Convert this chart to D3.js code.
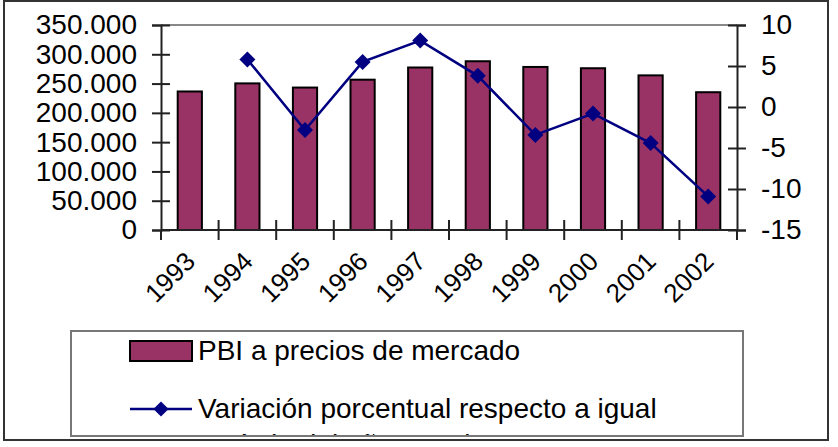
<!DOCTYPE html>
<html>
<head>
<meta charset="utf-8">
<script src="https://cdn.jsdelivr.net/npm/d3@7"></script>
<style>
  body { margin: 0; background: #fff; }
  svg text { font-family: "Liberation Sans", Arial, sans-serif; fill: #000; }
</style>
</head>
<body>
<svg id="chart" width="838" height="447"></svg>
<script>
const years = ["1993", "1994", "1995", "1996", "1997", "1998", "1999", "2000", "2001", "2002"];
const pbi = [236505, 250308, 243186, 256626, 277441, 288123, 278369, 276173, 263997, 235236];
const variacion = [null, 5.8, -2.8, 5.5, 8.1, 3.8, -3.4, -0.8, -4.4, -10.9];
const leftTicks = [0, 50000, 100000, 150000, 200000, 250000, 300000, 350000];
const rightTicks = [-15, -10, -5, 0, 5, 10];
const legendLabels = ["PBI a precios de mercado", "Variación porcentual respecto a igual", "período del año anterior"];

const barColor = "#993366";
const lineColor = "#000080";

const svg = d3.select("#chart");
const margin = { left: 161, right: 101, top: 25, bottom: 217 };
const width = 838 - margin.left - margin.right;
const height = 447 - margin.top - margin.bottom;

// outer frame
svg.append("rect")
  .attr("x", 4).attr("y", 1)
  .attr("width", 824).attr("height", 439)
  .attr("fill", "#fff")
  .attr("stroke", "#333").attr("stroke-width", 2);

const g = svg.append("g").attr("transform", "translate(" + margin.left + "," + margin.top + ")");

const x = d3.scaleBand().domain(years).range([0, width]).paddingInner(0.58).paddingOuter(0.29);
const xCat = d3.scaleBand().domain(years).range([0, width]);
const yLeft = d3.scaleLinear().domain([0, 350000]).range([height, 0]);
const yRight = d3.scaleLinear().domain([-15, 10]).range([height, 0]);

const fmt = v => d3.format(",")(v).replace(/,/g, ".");

// top border of plot area
g.append("line")
  .attr("x1", 0).attr("x2", width)
  .attr("y1", 0).attr("y2", 0)
  .attr("stroke", "#888").attr("stroke-width", 2);

// bars
g.selectAll("rect.bar")
  .data(pbi)
  .enter()
  .append("rect")
  .attr("class", "bar")
  .attr("x", (d, i) => x(years[i]))
  .attr("y", d => yLeft(d))
  .attr("width", x.bandwidth())
  .attr("height", d => height - yLeft(d))
  .attr("fill", barColor)
  .attr("stroke", "#000")
  .attr("stroke-width", 2);

// left axis
const leftAxis = g.append("g")
  .call(d3.axisLeft(yLeft).tickValues(leftTicks).tickFormat(fmt).tickSize(9).tickPadding(15));
leftAxis.selectAll("line").attr("x2", -9).attr("x1", 9);
// right axis (plain hyphen for negatives, as in the original)
const rightAxis = g.append("g")
  .attr("transform", "translate(" + width + ",0)")
  .call(d3.axisRight(yRight).tickValues(rightTicks).tickFormat(d => String(d)).tickSize(9).tickPadding(15));
rightAxis.selectAll("line").attr("x1", -9).attr("x2", 9);
// bottom axis with ticks at category boundaries
const bottomAxis = g.append("g")
  .attr("transform", "translate(0," + height + ")");
bottomAxis.append("line")
  .attr("x1", 0).attr("x2", width)
  .attr("stroke", "#222").attr("stroke-width", 2);
bottomAxis.selectAll("line.tick")
  .data(years.concat(["end"]))
  .enter()
  .append("line")
  .attr("class", "tick")
  .attr("x1", (d, i) => i < years.length ? xCat(d) : width)
  .attr("x2", (d, i) => i < years.length ? xCat(d) : width)
  .attr("y1", (d, i) => (i === 0 || i === years.length) ? 0 : -10)
  .attr("y2", 10)
  .attr("stroke", "#222").attr("stroke-width", 2);
bottomAxis.selectAll("text")
  .data(years)
  .enter()
  .append("text")
  .attr("transform", d => "translate(" + (xCat(d) + xCat.bandwidth() / 2 + 7) + ",33) rotate(-45)")
  .attr("text-anchor", "end")
  .style("font-size", "26px")
  .text(d => d);

[leftAxis, rightAxis].forEach(a => {
  a.select(".domain").attr("stroke", "#222").attr("stroke-width", 2);
  a.selectAll(".tick line").attr("stroke", "#222").attr("stroke-width", 2);
  a.selectAll("text").style("font-size", "28px").attr("fill", "#000");
});

// line series
const pts = variacion.map((v, i) => ({ year: years[i], v: v })).filter(d => d.v !== null);
const line = d3.line()
  .x(d => xCat(d.year) + xCat.bandwidth() / 2)
  .y(d => yRight(d.v));
g.append("path")
  .datum(pts)
  .attr("d", line)
  .attr("fill", "none")
  .attr("stroke", lineColor)
  .attr("stroke-width", 2.5);

const diamond = "M0,-8L8,0L0,8L-8,0Z";
g.selectAll("path.marker")
  .data(pts)
  .enter()
  .append("path")
  .attr("class", "marker")
  .attr("d", diamond)
  .attr("transform", d => "translate(" + (xCat(d.year) + xCat.bandwidth() / 2) + "," + yRight(d.v) + ")")
  .attr("fill", lineColor);

// legend
const legend = svg.append("g");
legend.append("clipPath").attr("id", "legclip")
  .append("rect").attr("x", 71).attr("y", 331).attr("width", 672).attr("height", 104);
legend.append("rect")
  .attr("x", 71).attr("y", 331)
  .attr("width", 672).attr("height", 105)
  .attr("fill", "#fff")
  .attr("stroke", "#777").attr("stroke-width", 2);
legend.append("rect")
  .attr("x", 130).attr("y", 341)
  .attr("width", 62).attr("height", 20)
  .attr("fill", barColor)
  .attr("stroke", "#000").attr("stroke-width", 2);
legend.append("line")
  .attr("x1", 130).attr("x2", 192)
  .attr("y1", 409).attr("y2", 409)
  .attr("stroke", lineColor).attr("stroke-width", 2.5);
legend.append("path")
  .attr("d", diamond)
  .attr("transform", "translate(161,409) scale(0.95)")
  .attr("fill", lineColor);
const legText = legend.append("g").attr("clip-path", "url(#legclip)");
legText.selectAll("text")
  .data(legendLabels)
  .enter()
  .append("text")
  .attr("x", 198)
  .attr("y", (d, i) => [360, 418, 454][i])
  .style("font-size", "28px")
  .text(d => d);
</script>
</body>
</html>
